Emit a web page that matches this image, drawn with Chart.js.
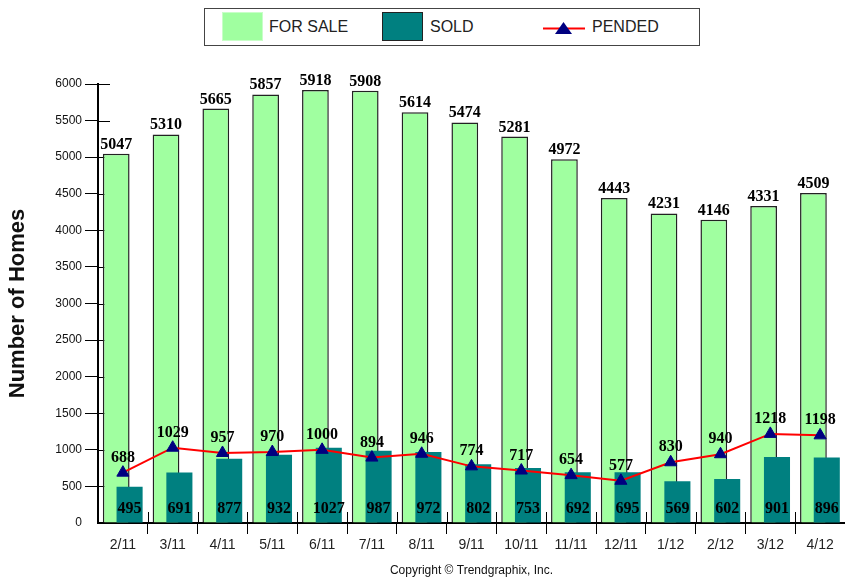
<!DOCTYPE html>
<html>
<head>
<meta charset="utf-8">
<script src="https://cdn.jsdelivr.net/npm/chart.js@4"></script>
<style>
  html, body { margin: 0; padding: 0; background: #fff; overflow: hidden; }
  #wrap { position: relative; width: 853px; height: 580px; }
  #legend {
    position: absolute; left: 204px; top: 8px; width: 494px; height: 36px;
    border: 1.5px solid #444; background: #fff;
    font: 16px 'Liberation Sans', Arial, sans-serif; color: #222;
  }
  #legend .sw { position: absolute; top: 3px; width: 41px; height: 29px; box-sizing: border-box; }
  #legend .tx { position: absolute; top: 9px; line-height: 18px; }
</style>
</head>
<body>
<div id="wrap">
  <canvas id="homesChart"></canvas>
  <div id="legend">
    <div class="sw" style="left:17px; background:#a0ffa0; border:1px solid #c8ffc8;"></div>
    <div class="tx" style="left:64px;">FOR SALE</div>
    <div class="sw" style="left:177px; background:#008080; border:1.5px solid #222;"></div>
    <div class="tx" style="left:225px;">SOLD</div>
    <svg style="position:absolute; left:337px; top:8px;" width="44" height="20">
      <line x1="1" y1="11.5" x2="43" y2="11.5" stroke="#ff0000" stroke-width="2"/>
      <polygon points="13,17 30,17 21.5,5" fill="#000080"/>
    </svg>
    <div class="tx" style="left:387px;">PENDED</div>
  </div>
</div>
<script>
const months = ['2/11', '3/11', '4/11', '5/11', '6/11', '7/11', '8/11', '9/11', '10/11', '11/11', '12/11', '1/12', '2/12', '3/12', '4/12'];
const forSale = [5047, 5310, 5665, 5857, 5918, 5908, 5614, 5474, 5281, 4972, 4443, 4231, 4146, 4331, 4509];
const sold = [495, 691, 877, 932, 1027, 987, 972, 802, 753, 692, 695, 569, 602, 901, 896];
const pended = [688, 1029, 957, 970, 1000, 894, 946, 774, 717, 654, 577, 830, 940, 1218, 1198];

Chart.defaults.font.family = "'Liberation Sans', Arial, sans-serif";
Chart.defaults.color = '#111';

const labelFont = "bold 16px 'Liberation Serif', 'Times New Roman', serif";

// sold bars sit on top of the for-sale bars
const soldOnTop = {
  id: 'soldOnTop',
  beforeDatasetDraw(chart, args) {
    if (args.index === 1) return false;
  },
  afterDatasetDraw(chart, args) {
    if (args.index === 0) chart.getDatasetMeta(1).controller.draw();
  }
};

// short tick marks reaching into the plot area
const innerTicks = {
  id: 'innerTicks',
  beforeDatasetsDraw(chart) {
    const ctx = chart.ctx;
    const area = chart.chartArea;
    const xs = chart.scales.x, ys = chart.scales.y;
    ctx.save();
    ctx.strokeStyle = '#000';
    ctx.lineWidth = 1;
    ys.ticks.forEach(t => {
      if (t.value === 0) return;
      const y = Math.round(ys.getPixelForValue(t.value)) + 0.5;
      ctx.beginPath(); ctx.moveTo(area.left, y); ctx.lineTo(area.left + 12, y); ctx.stroke();
    });
    const half = (xs.getPixelForValue(1) - xs.getPixelForValue(0)) / 2;
    for (let i = 1; i < months.length; i++) {
      const x = Math.round(xs.getPixelForValue(i) - half) + 0.5;
      ctx.beginPath(); ctx.moveTo(x, area.bottom - 11); ctx.lineTo(x, area.bottom); ctx.stroke();
    }
    ctx.restore();
  }
};

// value labels
const valueLabels = {
  id: 'valueLabels',
  afterDatasetsDraw(chart) {
    const ctx = chart.ctx;
    const base = chart.scales.y.getPixelForValue(0);
    ctx.save();
    ctx.font = labelFont;
    ctx.fillStyle = '#000';
    ctx.textAlign = 'center';
    ctx.textBaseline = 'alphabetic';
    chart.getDatasetMeta(0).data.forEach((el, i) => ctx.fillText(forSale[i], el.x, el.y - 5));
    chart.getDatasetMeta(1).data.forEach((el, i) => ctx.fillText(sold[i], el.x, base - 10));
    chart.getDatasetMeta(2).data.forEach((el, i) => ctx.fillText(pended[i], el.x, el.y - 11));
    ctx.restore();
  }
};

new Chart(document.getElementById('homesChart'), {
  type: 'bar',
  data: {
    labels: months,
    datasets: [
      {
        label: 'FOR SALE',
        data: forSale,
        backgroundColor: '#a0ffa0',
        borderColor: '#222',
        borderWidth: 1.5,
        categoryPercentage: 0.537,
        barPercentage: 2.0,
        order: 1
      },
      {
        label: 'SOLD',
        data: sold,
        backgroundColor: '#008080',
        borderWidth: 0,
        categoryPercentage: 0.537,
        barPercentage: 1.95,
        order: 2
      },
      {
        type: 'line',
        label: 'PENDED',
        data: pended,
        borderColor: '#ff0000',
        borderWidth: 2,
        tension: 0,
        pointStyle: 'triangle',
        pointRadius: 7,
        pointBackgroundColor: '#000080',
        pointBorderColor: '#000080',
        pointBorderWidth: 1,
        order: 0
      }
    ]
  },
  options: {
    responsive: true,
    maintainAspectRatio: false,
    animation: false,
    layout: { padding: { top: 84, left: 0, right: 0, bottom: 0 } },
    plugins: {
      legend: { display: false },
      tooltip: { enabled: false }
    },
    scales: {
      x: {
        offset: true,
        afterFit: s => { s.height = 57; },
        grid: {
          offset: true,
          drawOnChartArea: false,
          tickLength: 11,
          color: c => (c.index === 0 ? 'rgba(0,0,0,0)' : '#000')
        },
        border: { color: '#000', width: 2 },
        ticks: { font: { size: 14 }, color: '#222', padding: 3, maxRotation: 0, autoSkip: false },
        title: {
          display: true,
          text: 'Copyright \u00A9 Trendgraphix, Inc.',
          font: { size: 12 },
          color: '#111',
          padding: { top: 0, bottom: 2 }
        }
      },
      y: {
        min: 0,
        max: 6000,
        afterFit: s => { s.width = 98; },
        grid: {
          drawOnChartArea: false,
          tickLength: 13,
          color: c => (c.tick && c.tick.value === 0 ? 'rgba(0,0,0,0)' : '#000')
        },
        border: { color: '#000', width: 2 },
        ticks: { stepSize: 500, font: { size: 12 }, color: '#111', padding: 3, callback: v => String(v) },
        title: {
          display: true,
          text: 'Number of Homes',
          font: { size: 22, weight: 'bold' },
          color: '#111',
          padding: { top: 5, bottom: 0 }
        }
      }
    }
  },
  plugins: [soldOnTop, innerTicks, valueLabels]
});
</script>
</body>
</html>
